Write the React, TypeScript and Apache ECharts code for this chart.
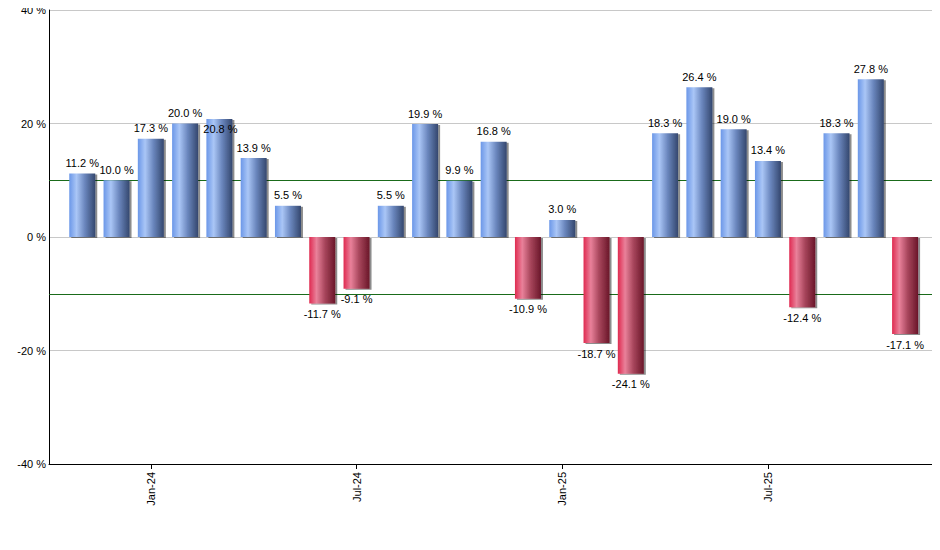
import { useEffect, useRef } from 'react';
import * as echarts from 'echarts';

const months = [
  'Nov-23', 'Dec-23', 'Jan-24', 'Feb-24', 'Mar-24', 'Apr-24', 'May-24', 'Jun-24', 'Jul-24',
  'Aug-24', 'Sep-24', 'Oct-24', 'Nov-24', 'Dec-24', 'Jan-25', 'Feb-25', 'Mar-25', 'Apr-25',
  'May-25', 'Jun-25', 'Jul-25', 'Aug-25', 'Sep-25', 'Oct-25', 'Nov-25',
];

const returns = [
  11.2, 10.0, 17.3, 20.0, 20.8, 13.9, 5.5, -11.7, -9.1, 5.5, 19.9, 9.9, 16.8,
  -10.9, 3.0, -18.7, -24.1, 18.3, 26.4, 19.0, 13.4, -12.4, 18.3, 27.8, -17.1,
];

const shownMonths = ['Jan-24', 'Jul-24', 'Jan-25', 'Jul-25'];
const yTicks = [-40, -20, 0, 20, 40];
const refLines = [10, -10];

const FONT = 'Liberation Sans, Arial, sans-serif';

const blueFill = new echarts.graphic.LinearGradient(0, 0, 1, 0, [
  { offset: 0, color: '#6b97e8' },
  { offset: 0.28, color: '#aac6f6' },
  { offset: 0.6, color: '#6a86bd' },
  { offset: 1, color: '#34476e' },
]);

const redFill = new echarts.graphic.LinearGradient(0, 0, 1, 0, [
  { offset: 0, color: '#df2a50' },
  { offset: 0.28, color: '#e9819a' },
  { offset: 0.6, color: '#a8465c' },
  { offset: 1, color: '#6a1629' },
]);

export default function App() {
  const chartRef = useRef<HTMLDivElement>(null);

  useEffect(() => {
    if (!chartRef.current) return;
    const chart = echarts.init(chartRef.current, undefined, { renderer: 'svg' });

    const tickIdx = shownMonths.map(m => months.indexOf(m));

    const barData = returns.map((v, i) => {
      const item: any = {
        value: [i, v],
        itemStyle: { color: v < 0 ? redFill : blueFill },
        label: { position: v < 0 ? 'bottom' : 'top' },
      };
      // the 20.8 % label is pushed down onto the bar to avoid its neighbour
      if (i === 4) item.label = { position: 'top', offset: [1, 21] };
      return item;
    });

    const option: echarts.EChartsOption = {
      animation: false,
      grid: { left: 49, right: 2, top: 10, bottom: 86 },
      xAxis: {
        type: 'value',
        min: -0.97,
        max: 24.96,
        axisLine: { show: true, onZero: false, lineStyle: { color: '#000', width: 1 } },
        splitLine: { show: false },
        axisTick: {
          show: true,
          customValues: tickIdx,
          length: 5,
          lineStyle: { color: '#000' },
        },
        axisLabel: {
          customValues: tickIdx,
          rotate: 90,
          margin: 8,
          color: '#000',
          fontSize: 11,
          fontFamily: FONT,
          formatter: (v: number) => months[Math.round(v)] ?? '',
        },
      },
      yAxis: {
        type: 'value',
        min: yTicks[0],
        max: yTicks[yTicks.length - 1],
        interval: 20,
        axisLine: { show: true, onZero: false, lineStyle: { color: '#000', width: 1 } },
        axisTick: { show: false },
        splitLine: { lineStyle: { color: '#c8c8c8', width: 1 } },
        axisLabel: {
          color: '#000',
          fontSize: 11,
          fontFamily: FONT,
          margin: 3,
          formatter: (v: number) => `${v} %`,
        },
      },
      series: [
        {
          type: 'line',
          data: [],
          z: 1,
          markLine: {
            silent: true,
            z: 1,
            symbol: 'none',
            label: { show: false },
            lineStyle: { color: '#1a6b1a', type: 'solid', width: 1 },
            data: refLines.map(y => ({ yAxis: y })),
          },
        },
        {
          type: 'bar',
          z: 3,
          barWidth: 26,
          data: barData,
          itemStyle: {
            shadowColor: 'rgba(0,0,0,0.45)',
            shadowOffsetX: 2,
            shadowOffsetY: 1,
            shadowBlur: 0,
          },
          label: {
            show: true,
            distance: 5,
            color: '#000',
            fontSize: 11,
            fontFamily: FONT,
            formatter: (p: any) => `${p.value[1].toFixed(1)} %`,
          },
        },
      ],
    };

    chart.setOption(option);
    return () => chart.dispose();
  }, []);

  return <div ref={chartRef} style={{ width: 940, height: 550, margin: -8 }} />;
}
